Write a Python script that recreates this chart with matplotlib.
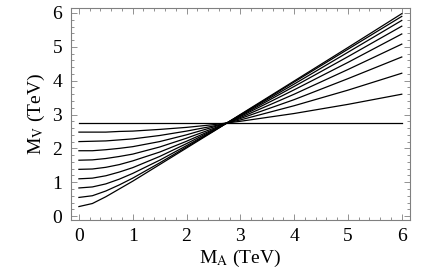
from matplotlib import pyplot as plt
from matplotlib.ticker import MultipleLocator

plt.rcParams['font.family'] = ['Liberation Serif', 'DejaVu Serif']
plt.rcParams['mathtext.fontset'] = 'stix'

# M_A values (TeV) where curves were read
m_a = [0, 0.25, 0.5, 0.75, 1, 1.5, 2, 2.5, 2.75, 3, 4, 5, 6]

# M_V values (TeV), one list per curve
curve_0 = [2.75, 2.75, 2.75, 2.75, 2.75, 2.75, 2.75, 2.75, 2.75, 2.75, 2.75, 2.75, 2.75]
curve_1 = [2.48, 2.48, 2.48, 2.50, 2.51, 2.56, 2.62, 2.70, 2.75, 2.80, 3.03, 3.30, 3.60]
curve_2 = [2.20, 2.21, 2.22, 2.25, 2.28, 2.38, 2.51, 2.66, 2.75, 2.84, 3.26, 3.72, 4.22]
curve_3 = [1.93, 1.93, 1.96, 2.00, 2.05, 2.20, 2.40, 2.63, 2.75, 2.88, 3.44, 4.06, 4.70]
curve_4 = [1.65, 1.66, 1.70, 1.76, 1.83, 2.04, 2.30, 2.59, 2.75, 2.91, 3.60, 4.33, 5.08]
curve_5 = [1.38, 1.39, 1.44, 1.52, 1.63, 1.89, 2.21, 2.56, 2.75, 2.94, 3.73, 4.54, 5.38]
curve_6 = [1.10, 1.12, 1.19, 1.30, 1.43, 1.76, 2.14, 2.54, 2.75, 2.96, 3.83, 4.71, 5.61]
curve_7 = [0.83, 0.86, 0.95, 1.09, 1.26, 1.65, 2.08, 2.52, 2.75, 2.98, 3.90, 4.84, 5.78]
curve_8 = [0.55, 0.60, 0.74, 0.92, 1.12, 1.57, 2.04, 2.51, 2.75, 2.99, 3.96, 4.93, 5.90]
curve_9 = [0.28, 0.37, 0.57, 0.80, 1.03, 1.52, 2.01, 2.50, 2.75, 3.00, 3.99, 4.98, 5.98]

curves = [curve_0, curve_1, curve_2, curve_3, curve_4,
          curve_5, curve_6, curve_7, curve_8, curve_9]

fig = plt.figure(figsize=(4.36, 2.73), dpi=100)
ax = fig.add_axes([0.162, 0.194, 0.778, 0.777])

for c in curves:
    ax.plot(m_a, c, color='black', linewidth=0.9)

ax.set_xlim(-0.154, 6.15)
ax.set_ylim(-0.118, 6.15)

ax.xaxis.set_major_locator(MultipleLocator(1))
ax.yaxis.set_major_locator(MultipleLocator(1))
ax.xaxis.set_minor_locator(MultipleLocator(0.2))
ax.yaxis.set_minor_locator(MultipleLocator(0.2))
ax.tick_params(which='both', direction='in', top=True, right=True,
               color='#808080', width=0.6)
ax.tick_params(which='major', length=4, labelsize=14, pad=6)
ax.tick_params(which='minor', length=2)
for s in ax.spines.values():
    s.set_color('#808080')
    s.set_linewidth(0.8)

ax.set_xlabel(r'M$_\mathrm{A}$ (TeV)', fontsize=14, labelpad=2)
ax.set_ylabel(r'M$_\mathrm{V}$ (TeV)', fontsize=14, labelpad=4)

fig.savefig('out.png', dpi=100)
